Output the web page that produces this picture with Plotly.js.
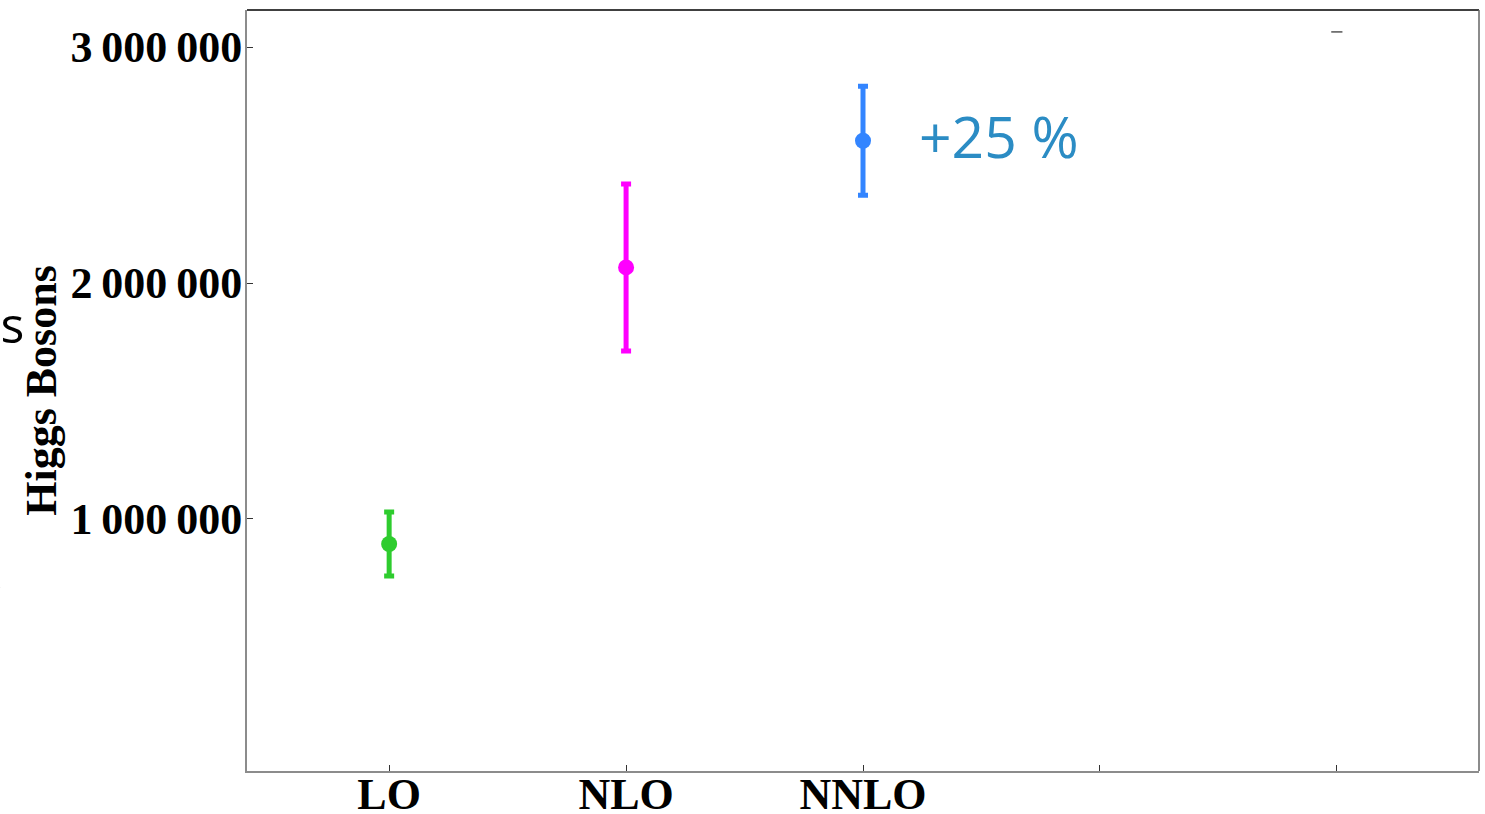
<!DOCTYPE html>
<html>
<head>
<meta charset="utf-8">
<script src="https://cdn.plot.ly/plotly-3.0.1.min.js"></script>
<style>
  html, body { margin: 0; padding: 0; background: #ffffff; overflow: hidden; }
  #chart { width: 1485px; height: 814px; }
</style>
</head>
<body>
<div id="chart"></div>
<script>
// Perturbative orders and predicted number of Higgs bosons
const orders = ['LO', 'NLO', 'NNLO', '', ' '];
const orderIndex = [0, 1, 2, 3, 4];
const counts = [894000, 2066000, 2603000];
const uncertainty = [136000, 354000, 231000];
const colors = ['#2ecc2e', '#ff00ff', '#3385ff'];

// small stray tick mark in the upper right
const strayMark = { x: 4, y: 3064000 };

const yTickVals = [1000000, 2000000, 3000000];
const yTickText = ['1\u2009000\u2009000', '2\u2009000\u2009000', '3\u2009000\u2009000'];

const increaseLabel = '+25 %';

const traces = counts.map((v, i) => ({
  type: 'scatter',
  mode: 'markers',
  x: [orderIndex[i]],
  y: [v],
  error_y: {
    type: 'data',
    array: [uncertainty[i]],
    visible: true,
    color: colors[i],
    thickness: 5,
    width: 5
  },
  marker: { color: colors[i], size: 16 },
  showlegend: false,
  hoverinfo: 'skip'
}));

traces.push({
  type: 'scatter',
  mode: 'markers',
  x: [strayMark.x],
  y: [strayMark.y],
  marker: { symbol: 'line-ew', size: 8, line: { color: '#000000', width: 1 } },
  showlegend: false,
  hoverinfo: 'skip'
});

const serifBold = { family: 'Liberation Serif, Times New Roman, serif', size: 44, color: '#000000', weight: 'bold' };

const layout = {
  width: 1485,
  height: 814,
  margin: { l: 247, r: 6, t: 10, b: 43, pad: 0 },
  paper_bgcolor: '#ffffff',
  plot_bgcolor: '#ffffff',
  xaxis: {
    range: [-0.6, 4.6],
    tickvals: orderIndex,
    ticktext: orders,
    ticks: 'inside',
    ticklen: 6,
    tickwidth: 1,
    tickcolor: '#333333',
    ticklabelstandoff: -17,
    showgrid: false,
    zeroline: false,
    showline: true,
    linecolor: '#8c8c8c',
    linewidth: 2,
    tickfont: serifBold
  },
  yaxis: {
    range: [-68000, 3157000],
    tickvals: yTickVals,
    ticktext: yTickText,
    ticks: 'inside',
    ticklen: 6,
    tickwidth: 1,
    tickcolor: '#333333',
    ticklabelstandoff: -6,
    showgrid: false,
    zeroline: false,
    showline: true,
    linecolor: '#8c8c8c',
    linewidth: 2,
    tickfont: serifBold,
    title: { text: 'Higgs Bosons', font: serifBold, standoff: 0 }
  },
  shapes: [
    { type: 'line', xref: 'paper', yref: 'paper', x0: 0, x1: 1, y0: 1, y1: 1,
      line: { color: '#000000', width: 1.5 } },
    { type: 'line', xref: 'paper', yref: 'paper', x0: 1, x1: 1, y0: 0, y1: 1,
      line: { color: '#666666', width: 1.5 } }
  ],
  annotations: [
    {
      x: orderIndex[2], y: counts[2], xref: 'x', yref: 'y',
      text: increaseLabel, showarrow: false,
      xanchor: 'left', yanchor: 'middle', xshift: 54, yshift: 5,
      font: { family: 'Open Sans, sans-serif', size: 57, color: '#2b8cc4' }
    },
    {
      x: -0.1802, y: 0.588, xref: 'paper', yref: 'paper',
      text: 'Higgs Bosons', showarrow: false,
      xanchor: 'right', yanchor: 'middle', borderpad: 0,
      font: { family: 'Open Sans, sans-serif', size: 50, color: '#000000' }
    },
    {
      x: -0.198, y: 0.256, xref: 'paper', yref: 'paper',
      text: 'Higgs Bosons', showarrow: false,
      xanchor: 'right', yanchor: 'middle', borderpad: 0,
      font: { family: 'Open Sans, sans-serif', size: 50, color: '#000000' }
    }
  ]
};

Plotly.newPlot('chart', traces, layout, { staticPlot: true, displayModeBar: false });
</script>
</body>
</html>
